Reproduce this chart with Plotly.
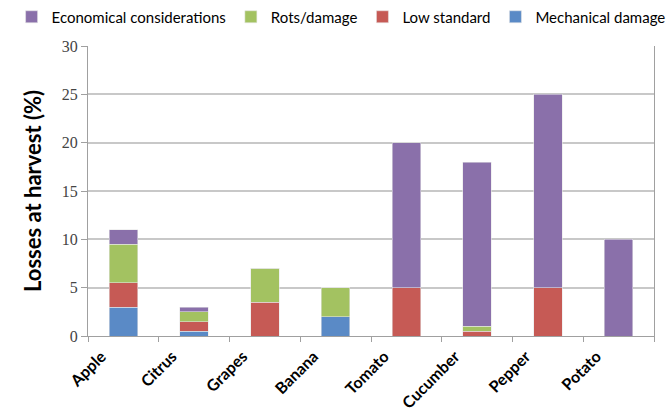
import plotly.graph_objects as go

crops = ["Apple", "Citrus", "Grapes", "Banana", "Tomato", "Cucumber", "Pepper", "Potato"]
mechanical_damage = [3, 0.5, 0, 2, 0, 0, 0, 0]
low_standard = [2.5, 1, 3.5, 0, 5, 0.5, 5, 0]
rots_damage = [4, 1, 3.5, 3, 0, 0.5, 0, 0]
economical = [1.5, 0.5, 0, 0, 15, 17, 20, 10]
y_ticks = [0, 5, 10, 15, 20, 25, 30]

series = [
    ("Mechanical damage", mechanical_damage, "#5A8AC6"),
    ("Low standard", low_standard, "#C65A55"),
    ("Rots/damage", rots_damage, "#A3C261"),
    ("Economical considerations", economical, "#8A70AA"),
]

fig = go.Figure()
for name, vals, color in series:
    fig.add_trace(go.Bar(
        x=crops, y=vals, name=name,
        marker=dict(color=color, line=dict(color="rgba(230,230,230,0.7)", width=0.8)),
    ))

fig.update_layout(
    barmode="stack",
    bargap=0.6,
    width=670, height=409,
    margin=dict(l=88, r=16, t=46, b=73, autoexpand=False),
    paper_bgcolor="white",
    plot_bgcolor="white",
    legend=dict(
        orientation="h", traceorder="reversed",
        x=-0.135, xanchor="left", y=1.1, yanchor="middle",
        font=dict(family="Lato", size=15, color="#000"),
        itemwidth=30, tracegroupgap=0,
    ),
    xaxis=dict(
        showline=True, linecolor="#A0A0A0", linewidth=1,
        ticks="outside", ticklen=5, tickcolor="#A0A0A0",
        tickson="boundaries", tickangle=-45, automargin=False,
        ticklabelshift=-22, ticklabelstandoff=4,
        tickfont=dict(family="Lato", size=16, color="#000", weight="bold"),
    ),
    yaxis=dict(
        range=[0, 30], tickvals=y_ticks, automargin=False,
        showline=True, linecolor="#A0A0A0", linewidth=1, mirror=True,
        ticks="outside", ticklen=6, tickcolor="#A0A0A0",
        gridcolor="#C8C8C8", gridwidth=1.5,
        tickfont=dict(family="Liberation Serif", size=16, color="#444"),
        title=dict(text="Losses at harvest (%)",
                   font=dict(family="Lato", size=22, color="#000", weight="bold"),
                   standoff=14),
        zeroline=False,
    ),
)

fig.write_html("out.html")
